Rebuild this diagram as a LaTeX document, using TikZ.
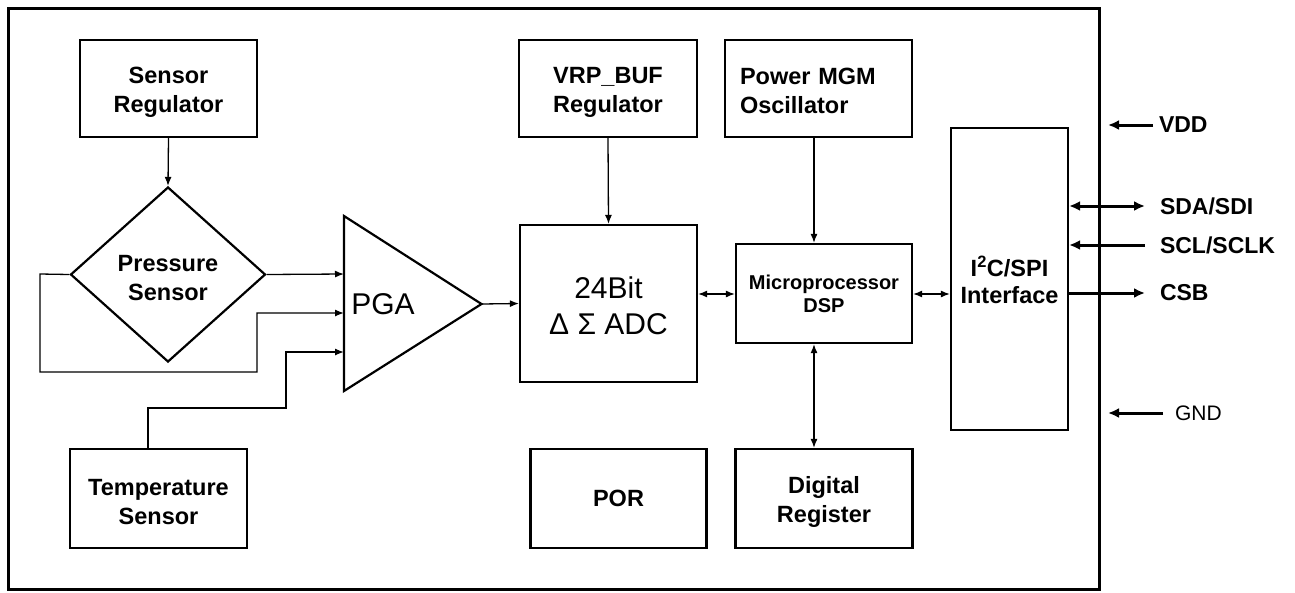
\documentclass[tikz,border=0pt]{standalone}
\usepackage{fontspec}
\setmainfont{Liberation Sans}
\usetikzlibrary{shapes.geometric,arrows.meta}
\newcommand\lowstrut[1]{\rule{0pt}{#1}}
\begin{document}
\begin{tikzpicture}[x=1pt,y=-1pt,
  blk/.style={draw,line width=2.2pt,inner sep=0pt,align=center,font=\bfseries\fontsize{23.5}{29}\selectfont},
  plain/.style={draw,line width=2.2pt,inner sep=0pt,align=center,font=\fontsize{30}{36}\selectfont},
  conn/.style={line width=1.3pt,-{Latex[length=9pt,width=7pt]}},
  dconn/.style={line width=1.3pt,{Latex[length=9pt,width=7pt]}-{Latex[length=9pt,width=7pt]}},
  io/.style={line width=3pt,-{Latex[length=11pt,width=10pt]}},
  dio/.style={line width=3pt,{Latex[length=11pt,width=10pt]}-{Latex[length=11pt,width=10pt]}},
  iolab/.style={anchor=west,inner sep=0pt,font=\bfseries\fontsize{23}{29}\selectfont}]
\useasboundingbox (0,0) rectangle (1295,592);
\fill[white] (0,0) rectangle (1295,592);
% chip frame
\draw[line width=3pt] (8,8) rectangle (1099,589);

% blocks
\node[blk,minimum width=177pt,minimum height=97pt] (sr) at (168.5,88.5) {\lowstrut{23.5pt}Sensor\\Regulator};
\node[blk,diamond,minimum width=195pt,minimum height=175pt] (ps) at (168,274.5) {\lowstrut{23.5pt}Pressure\\Sensor};
\node[blk,minimum width=177pt,minimum height=99pt] (ts) at (158.5,498.5) {\lowstrut{23.5pt}Temperature\\Sensor};
\draw[line width=2.2pt] (344,216) coordinate (pgaA) -- (481.5,304) coordinate (pgaTip) -- (344,391) coordinate (pgaB) -- cycle;
\node[inner sep=0pt,font=\fontsize{30}{36}\selectfont] (pga) at (383,304) {PGA};
\coordinate (in1) at (344,274);
\coordinate (in2) at (344,313);
\coordinate (in3) at (344,352);

\node[plain,minimum width=177pt,minimum height=157pt] (adc) at (608.5,303.5) {\lowstrut{26.5pt}24Bit\\Δ Σ ADC};
\node[blk,minimum width=178pt,minimum height=97pt] (vrp) at (608,88.5) {\lowstrut{23.5pt}VRP\_BUF\\Regulator};
\node[blk,minimum width=187pt,minimum height=97pt,text width=157pt,align=left] (pmo) at (818.5,88.5) {\lowstrut{21pt}Power MGM\\Oscillator};
\node[blk,minimum width=176pt,minimum height=99pt,font=\bfseries\fontsize{20}{23}\selectfont] (mp) at (824,293.5) {Microprocessor\\DSP};
\node[blk,minimum width=176pt,minimum height=99pt] (por) at (618.5,498.5) {POR};
\node[blk,minimum width=177pt,minimum height=99pt] (dr) at (824,498.5) {\lowstrut{24pt}Digital\\Register};
\node[blk,minimum width=117pt,minimum height=302pt,font=\bfseries\fontsize{23.5}{27}\selectfont] (i2c) at (1009.5,279) {\lowstrut{22pt}I\textsuperscript{2}C/SPI\\Interface};

% helper coordinates
\coordinate (xm) at (814,0);
\coordinate (ym) at (0,294);

% connectors
\draw[conn] (sr.south) -- (ps.north);
\draw[conn] (ps.east) -- (in1);
\draw[conn] (ps.west) -- (40,274) -- (40,372) -- (257,372) -- (257,313) -- (in2);
\draw[conn] ([xshift=-10.5pt]ts.north) |- (286,408) |- (in3);
\draw[conn] (pgaTip) -- (adc.west);
\draw[conn] (vrp.south) -- (adc.north);
\draw[conn] (pmo.south -| xm) -- (mp.north -| xm);
\draw[dconn] (mp.south -| xm) -- (dr.north -| xm);
\draw[dconn] (adc.east |- ym) -- (mp.west |- ym);
\draw[dconn] (mp.east |- ym) -- (i2c.west |- ym);

% pins
\node[iolab,outer xsep=6pt] (vdd) at (1153,125) {VDD};
\node[iolab,outer xsep=15pt] (sda) at (1145,206) {SDA/SDI};
\node[iolab,outer xsep=15pt] (scl) at (1145,245) {SCL/SCLK};
\node[iolab,outer xsep=15pt] (csb) at (1145,293) {CSB};
\node[iolab,outer xsep=12pt,font=\fontsize{21}{25}\selectfont] (gnd) at (1163,413) {GND};
\coordinate (vddE) at (1108,125);
\coordinate (gndE) at (1108,413);
\draw[io] (vdd.west) -- (vddE);
\draw[dio] (i2c.east |- sda) -- (sda.west);
\draw[io] (scl.west) -- (i2c.east |- scl);
\draw[io] (i2c.east |- csb) -- (csb.west);
\draw[io] (gnd.west) -- (gndE);
\end{tikzpicture}
\end{document}
